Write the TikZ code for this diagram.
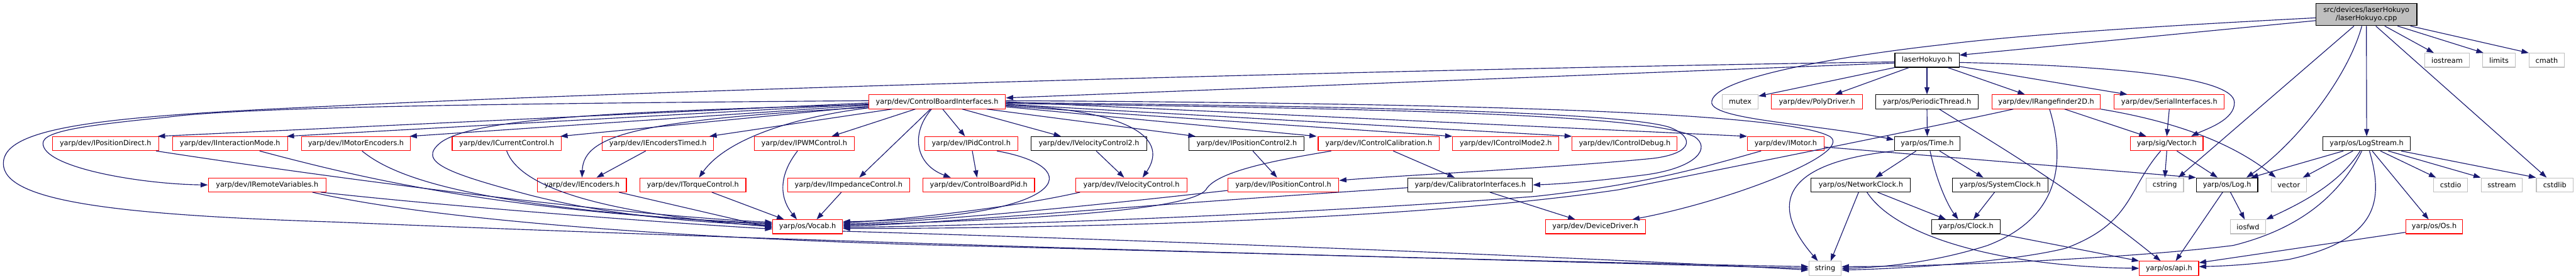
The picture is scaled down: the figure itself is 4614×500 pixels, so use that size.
\documentclass[tikz,border=0pt]{standalone}
\usepackage{fontspec}
\setmainfont{DejaVu Sans}
\usetikzlibrary{arrows.meta}
\definecolor{edgeblue}{HTML}{191970}
\definecolor{extgray}{HTML}{BFBFBF}
\definecolor{truncred}{HTML}{FF0000}

\begin{document}
\begin{tikzpicture}[
    x=1pt, y=-1pt,
    file/.style={rectangle, draw, line width=1.3pt, fill=white, minimum height=25pt, inner sep=0pt, font=\fontsize{12.7pt}{15pt}\selectfont},
    redfile/.style={file, draw=truncred},
    blackfile/.style={file, draw=black},
    sysfile/.style={file, draw=extgray},
    rootfile/.style={file, draw=black, fill=extgray, minimum height=40pt, align=center},
    inc/.style={-{Triangle[length=13pt, width=9pt]}, draw=edgeblue, line width=1.3pt}
]
    \useasboundingbox (0,0) rectangle (4614,500);

    % files
    \node[rootfile, minimum width=181pt] (root) at (4238.5,26) {src/devices/laserHokuyo\\/laserHokuyo.cpp};
    \node[blackfile, minimum width=115pt] (lh) at (3451.5,108) {laserHokuyo.h};
    \node[sysfile, minimum width=80pt] (iostream) at (4383,108) {iostream};
    \node[sysfile, minimum width=58pt] (limits) at (4476,108) {limits};
    \node[sysfile, minimum width=63pt] (cmath) at (4561.5,108) {cmath};

    \node[redfile, minimum width=245pt] (cbi) at (1678.5,182.5) {yarp/dev/ControlBoardInterfaces.h};
    \node[sysfile, minimum width=64pt] (mutex) at (3117,182.5) {mutex};
    \node[redfile, minimum width=163pt] (poly) at (3254.5,182.5) {yarp/dev/PolyDriver.h};
    \node[blackfile, minimum width=183pt] (pthread) at (3451.5,182.5) {yarp/os/PeriodicThread.h};
    \node[redfile, minimum width=194pt] (rf2d) at (3665,182.5) {yarp/dev/IRangefinder2D.h};
    \node[redfile, minimum width=197pt] (serial) at (3885.5,182.5) {yarp/dev/SerialInterfaces.h};

    \node[redfile, minimum width=190pt] (ipd) at (189,257.5) {yarp/dev/IPositionDirect.h};
    \node[redfile, minimum width=206pt] (iim) at (412,257.5) {yarp/dev/IInteractionMode.h};
    \node[redfile, minimum width=195pt] (ime) at (637.5,257.5) {yarp/dev/IMotorEncoders.h};
    \node[redfile, minimum width=195pt] (icc) at (907.5,257.5) {yarp/dev/ICurrentControl.h};
    \node[redfile, minimum width=199pt] (iet) at (1178.5,257.5) {yarp/dev/IEncodersTimed.h};
    \node[redfile, minimum width=179pt] (ipwm) at (1440.5,257.5) {yarp/dev/IPWMControl.h};
    \node[redfile, minimum width=167pt] (ipid) at (1739.5,257.5) {yarp/dev/IPidControl.h};
    \node[blackfile, minimum width=207pt] (ivc2) at (1950.5,257.5) {yarp/dev/IVelocityControl2.h};
    \node[blackfile, minimum width=206pt] (ipc2) at (2233,257.5) {yarp/dev/IPositionControl2.h};
    \node[redfile, minimum width=217pt] (icalib) at (2469.5,257.5) {yarp/dev/IControlCalibration.h};
    \node[redfile, minimum width=190pt] (icm2) at (2697,257.5) {yarp/dev/IControlMode2.h};
    \node[redfile, minimum width=188pt] (idebug) at (2910,257.5) {yarp/dev/IControlDebug.h};
    \node[redfile, minimum width=137pt] (imotor) at (3198.5,257.5) {yarp/dev/IMotor.h};
    \node[blackfile, minimum width=118pt] (time) at (3452,257.5) {yarp/os/Time.h};
    \node[redfile, minimum width=130pt] (svec) at (3881,257.5) {yarp/sig/Vector.h};
    \node[blackfile, minimum width=156pt] (logstream) at (4239,257.5) {yarp/os/LogStream.h};

    \node[redfile, minimum width=211pt] (irv) at (478.5,331.5) {yarp/dev/IRemoteVariables.h};
    \node[redfile, minimum width=159pt] (ienc) at (1042.5,331.5) {yarp/dev/IEncoders.h};
    \node[redfile, minimum width=190pt] (itc) at (1241,331.5) {yarp/dev/ITorqueControl.h};
    \node[redfile, minimum width=218pt] (iimp) at (1520,331.5) {yarp/dev/IImpedanceControl.h};
    \node[redfile, minimum width=200pt] (cbpid) at (1753,331.5) {yarp/dev/ControlBoardPid.h};
    \node[redfile, minimum width=199pt] (ivc) at (2026.5,331.5) {yarp/dev/IVelocityControl.h};
    \node[redfile, minimum width=199pt] (ipc) at (2298.5,331.5) {yarp/dev/IPositionControl.h};
    \node[blackfile, minimum width=223pt] (calib) at (2633.5,331.5) {yarp/dev/CalibratorInterfaces.h};
    \node[blackfile, minimum width=178pt] (nclock) at (3333,331.5) {yarp/os/NetworkClock.h};
    \node[blackfile, minimum width=171pt] (sclock) at (3582.5,331.5) {yarp/os/SystemClock.h};
    \node[sysfile, minimum width=67pt] (cstring) at (3877.5,331.5) {cstring};
    \node[blackfile, minimum width=110pt] (log) at (3989,331.5) {yarp/os/Log.h};
    \node[sysfile, minimum width=63pt] (vec) at (4099.5,331.5) {vector};
    \node[sysfile, minimum width=61pt] (cstdio) at (4389.5,331.5) {cstdio};
    \node[sysfile, minimum width=74pt] (sstream) at (4481,331.5) {sstream};
    \node[sysfile, minimum width=66pt] (cstdlib) at (4576,331.5) {cstdlib};

    \node[redfile, minimum width=125pt] (vocab) at (1446.5,406.5) {yarp/os/Vocab.h};
    \node[redfile, minimum width=179pt] (ddrv) at (2857.5,406.5) {yarp/dev/DeviceDriver.h};
    \node[blackfile, minimum width=123pt] (clock) at (3521.5,406.5) {yarp/os/Clock.h};
    \node[sysfile, minimum width=63pt] (iosfwd) at (4026.5,406.5) {iosfwd};
    \node[redfile, minimum width=102pt] (os) at (4360,406.5) {yarp/os/Os.h};

    \node[sysfile, minimum width=58pt] (string) at (3269,481) {string};
    \node[redfile, minimum width=106pt] (api) at (3885,481) {yarp/os/api.h};

    % includes of the .cpp
    \draw[inc] ([yshift=-11pt]root.west) -- ([yshift=-4pt]lh.north east);
    \draw[inc] ([yshift=-6pt]root.west) .. controls (3800,50) and (3600,65) .. (3480,80)
        .. controls (3300,100) and (3060,140) .. (3066,185)
        .. controls (3072,215) and (3250,222) .. ([yshift=7pt]time.west);
    \draw[inc] ([xshift=69pt]root.south west) -- ([xshift=-10pt]cstring.north east);
    \draw[inc] ([xshift=83pt]root.south west) .. controls (4205,140) and (4110,260) .. ([xshift=-21pt]log.north east);
    \draw[inc] (root.south) -- (logstream.north);
    \draw[inc] ([xshift=108pt]root.south west) -- ([xshift=19pt]cstdlib.north west);
    \draw[inc] ([xshift=124pt]root.south west) -- ([xshift=17pt]iostream.north west);
    \draw[inc] ([xshift=147pt]root.south west) -- ([xshift=2pt]limits.north west);
    \draw[inc] ([xshift=170pt]root.south west) -- (cmath.north west);

    % laserHokuyo.h
    \draw[inc] ([yshift=-5pt]lh.west) -- ([yshift=7pt]cbi.east);
    \draw[inc] ([yshift=-3pt]lh.west) .. controls (2600,122) and (1200,160) .. (600,190)
        .. controls (200,208) and (6,225) .. (6,293)
        .. controls (6,360) and (200,385) .. (600,398)
        .. controls (1600,440) and (2800,470) .. ([yshift=3pt]string.west);
    \draw[inc] (lh.south west) -- ([yshift=-3pt]mutex.north east);
    \draw[inc] ([xshift=26pt]lh.south west) -- ([xshift=32pt]poly.north);
    \draw[inc] (lh.south) -- (pthread.north);
    \draw[inc] ([xshift=-21pt]lh.south east) -- ([xshift=-38pt]rf2d.north);
    \draw[inc] ([yshift=2pt]lh.south east) -- ([xshift=24pt]serial.north west);
    \draw[inc] ([yshift=-4pt]lh.east) .. controls (3800,118) and (4000,140) .. (4002,183)
        .. controls (4004,215) and (3950,232) .. ([xshift=-22pt]svec.north east);

    % ControlBoardInterfaces.h
    \draw[inc] ([yshift=2pt]cbi.west) .. controls (1000,185) and (450,190) .. (300,210)
        .. controls (150,225) and (77,235) .. (77,257)
        .. controls (77,300) and (250,330) .. (irv.west);
    \draw[inc] ([yshift=-2pt]cbi.west) -- ([xshift=-2pt]ipd.north east);
    \draw[inc] ([yshift=-4pt]cbi.west) -- ([xshift=-2pt]iim.north east);
    \draw[inc] ([yshift=-6pt]cbi.west) -- ([xshift=-2pt]ime.north east);
    \draw[inc] ([yshift=-8pt]cbi.west) -- ([xshift=-2pt]icc.north east);
    \draw[inc] ([xshift=42pt]cbi.south west) -- ([xshift=-8pt]iet.north east);
    \draw[inc] ([yshift=-10pt]cbi.west) .. controls (1150,215) and (1045,240) .. (ienc.north);
    \draw[inc] ([yshift=-11pt]cbi.west) .. controls (1420,210) and (1300,250) .. ([xshift=11pt]itc.north);
    \draw[inc] ([yshift=-5pt]cbi.west) .. controls (1100,200) and (850,212) .. (790,255)
        .. controls (745,290) and (800,310) .. (950,350)
        .. controls (1100,388) and (1250,398) .. ([yshift=2pt]vocab.west);
    \draw[inc] ([xshift=84pt]cbi.south west) -- ([xshift=-41pt]ipwm.north east);
    \draw[inc] ([xshift=-12pt]cbi.south) -- ([xshift=19pt]iimp.north);
    \draw[inc] ([xshift=-10pt]cbi.south) .. controls (1630,240) and (1640,295) .. ([xshift=-50pt]cbpid.north);
    \draw[inc] ([xshift=10pt]cbi.south) -- ([xshift=-11pt]ipid.north);
    \draw[inc] ([xshift=-78pt]cbi.south east) -- ([xshift=54pt]ivc2.north west);
    \draw[inc] ([yshift=-6pt]cbi.east) .. controls (2000,195) and (2100,240) .. ([xshift=20pt]ivc.north);
    \draw[inc] ([xshift=-34pt]cbi.south east) -- ([xshift=12pt]ipc2.north west);
    \draw[inc] ([yshift=-9pt]cbi.east) -- ([xshift=-2pt]icalib.north west);
    \draw[inc] ([yshift=-7.5pt]cbi.east) -- (icm2.north west);
    \draw[inc] ([yshift=-4.5pt]cbi.east) -- (idebug.north west);
    \draw[inc] (cbi.east) -- (imotor.north west);
    \draw[inc] ([yshift=-1.5pt]cbi.east) .. controls (2400,190) and (2900,200) .. (2990,228)
        .. controls (3035,245) and (3035,275) .. (2960,284)
        .. controls (2800,300) and (2500,315) .. ([yshift=8pt]ipc.east);
    \draw[inc] ([yshift=-3pt]cbi.east) .. controls (2500,195) and (2950,205) .. (3035,245)
        .. controls (3065,265) and (3040,300) .. (2950,313)
        .. controls (2850,326) and (2790,330) .. (calib.east);
    \draw[inc] ([yshift=2pt]cbi.east) .. controls (2600,185) and (3200,200) .. (3278,245)
        .. controls (3320,275) and (3100,360) .. ([xshift=-24pt]ddrv.north east);

    % into Vocab.h
    \draw[inc] ([xshift=-5pt]ipd.south east) .. controls (600,320) and (1100,385) .. ([yshift=8pt]vocab.west);
    \draw[inc] ([xshift=53pt]iim.south) .. controls (650,320) and (900,380) .. ([yshift=6pt]vocab.west);
    \draw[inc] ([xshift=11pt]ime.south) .. controls (720,330) and (900,375) .. ([yshift=4pt]vocab.west);
    \draw[inc] (icc.south) .. controls (930,330) and (1050,380) .. (vocab.west);
    \draw[inc] ([xshift=-14pt]ienc.south east) -- ([yshift=-2pt]vocab.west);
    \draw[inc] ([xshift=-10pt]irv.south east) .. controls (800,370) and (1200,400) .. ([yshift=-4pt]vocab.west);
    \draw[inc] ([xshift=34pt]itc.south) -- ([xshift=21pt]vocab.north west);
    \draw[inc] ([xshift=-12pt]ipwm.south) .. controls (1390,320) and (1400,360) .. ([xshift=44pt]vocab.north west);
    \draw[inc] ([xshift=-13pt]iimp.south) -- ([xshift=-47pt]vocab.north east);
    \draw[inc] ([xshift=-38pt]ipid.south east) .. controls (1950,300) and (1920,390) .. ([yshift=9pt]vocab.east);
    \draw[inc] ([xshift=8pt]ivc.south west) .. controls (1800,375) and (1600,395) .. ([yshift=7pt]vocab.east);
    \draw[inc] ([yshift=-10pt]ipc.west) .. controls (1900,375) and (1650,398) .. ([yshift=5pt]vocab.east);
    \draw[inc] ([xshift=24pt]icalib.south west) .. controls (2300,285) and (2180,305) .. (2160,340)
        .. controls (2130,380) and (1800,395) .. ([yshift=3pt]vocab.east);
    \draw[inc] ([yshift=-5pt]calib.west) .. controls (2000,370) and (1700,400) .. ([yshift=1pt]vocab.east);
    \draw[inc] ([xshift=25pt]imotor.south west) .. controls (3050,300) and (2950,330) .. (2750,352)
        .. controls (2400,380) and (1800,405) .. ([yshift=-1pt]vocab.east);
    \draw[inc] ([xshift=-59pt]rf2d.south) .. controls (3450,230) and (3100,300) .. (2900,340)
        .. controls (2500,400) and (1800,410) .. ([yshift=-3pt]vocab.east);
    \draw[inc] ([yshift=-8pt]vocab.east) .. controls (2200,435) and (2900,465) .. ([yshift=-3pt]string.west);
    \draw[inc] ([xshift=-25pt]irv.south east) .. controls (800,400) and (1300,430) .. (1700,440)
        .. controls (2400,458) and (3000,475) .. (string.west);

    % remaining interfaces
    \draw[inc] ([xshift=-22pt]iet.south) -- ([xshift=26pt]ienc.north);
    \draw[inc] ([xshift=13pt]ivc2.south) -- ([xshift=-13pt]ivc.north);
    \draw[inc] ([xshift=11pt]ipc2.south) -- ([xshift=-11pt]ipc.north);
    \draw[inc] ([xshift=2pt]ipid.south) -- ([xshift=-3pt]cbpid.north);
    \draw[inc] ([xshift=26pt]icalib.south) -- ([xshift=-28pt]calib.north);
    \draw[inc] ([xshift=35pt]calib.south) -- ([xshift=-36pt]ddrv.north);
    \draw[inc] ([yshift=-6pt]imotor.east) -- (log.north west);

    % yarp/os
    \draw[inc] (pthread.south) -- (time.north);
    \draw[inc] ([xshift=22pt]pthread.south) .. controls (3560,250) and (3700,330) .. ([xshift=-15pt]api.north);
    \draw[inc] (time.south west) .. controls (3170,295) and (3180,380) .. ([xshift=-13pt]string.north);
    \draw[inc] ([xshift=-20pt]time.south) -- ([xshift=26pt]nclock.north);
    \draw[inc] ([xshift=22pt]time.south) -- ([xshift=-30pt]sclock.north);
    \draw[inc] ([xshift=5pt]time.south) .. controls (3470,330) and (3490,370) .. ([xshift=-14pt]clock.north);
    \draw[inc] ([xshift=-4pt]nclock.south) -- ([xshift=10pt]string.north);
    \draw[inc] ([xshift=30pt]nclock.south) -- ([xshift=-36pt]clock.north);
    \draw[inc] ([xshift=11pt]nclock.south) .. controls (3400,430) and (3600,478) .. (api.west);
    \draw[inc] ([xshift=-10pt]sclock.south) -- ([xshift=13pt]clock.north);
    \draw[inc] (clock.south east) -- (api.north west);

    % rangefinder, serial, vector
    \draw[inc] ([xshift=33pt]rf2d.south) -- ([xshift=29pt]svec.north west);
    \draw[inc] (rf2d.south east) .. controls (3880,215) and (3990,250) .. ([xshift=9pt]vec.north west);
    \draw[inc] ([xshift=6pt]rf2d.south) .. controls (3700,290) and (3690,390) .. (3560,440)
        .. controls (3450,475) and (3350,480) .. (string.east);
    \draw[inc] (serial.south) -- (svec.north);
    \draw[inc] (svec.south) -- (cstring.north);
    \draw[inc] ([xshift=18pt]svec.south) -- ([xshift=-17pt]log.north);
    \draw[inc] ([xshift=-11pt]svec.south) .. controls (3810,340) and (3820,400) .. (3700,445)
        .. controls (3600,470) and (3400,482) .. ([yshift=-3pt]string.east);
    \draw[inc] ([xshift=6pt]log.south) -- ([xshift=-6pt]iosfwd.north);
    \draw[inc] ([xshift=-8pt]log.south) -- ([xshift=12pt]api.north);
    \draw[inc] ([yshift=-10pt]os.west) -- ([yshift=10pt]api.east);

    % LogStream.h
    \draw[inc] ([xshift=37pt]logstream.south west) -- ([xshift=-13pt]log.north east);
    \draw[inc] ([xshift=54pt]logstream.south west) -- ([xshift=-7pt]vec.north east);
    \draw[inc] ([xshift=67pt]logstream.south west) .. controls (4190,330) and (4120,365) .. (iosfwd.north east);
    \draw[inc] ([xshift=70pt]logstream.south west) .. controls (4190,350) and (4120,410) .. (4000,440)
        .. controls (3800,465) and (3450,478) .. ([yshift=3pt]string.east);
    \draw[inc] ([xshift=5pt]logstream.south) .. controls (4270,360) and (4260,430) .. (4100,465)
        .. controls (4030,475) and (3980,477) .. ([yshift=3pt]api.east);
    \draw[inc] ([xshift=10pt]logstream.south) -- ([xshift=-10pt]os.north);
    \draw[inc] ([xshift=-54pt]logstream.south east) -- ([xshift=5pt]cstdio.north west);
    \draw[inc] ([xshift=-40pt]logstream.south east) -- (sstream.north west);
    \draw[inc] ([xshift=-17pt]logstream.south east) -- (cstdlib.north west);
\end{tikzpicture}
\end{document}
